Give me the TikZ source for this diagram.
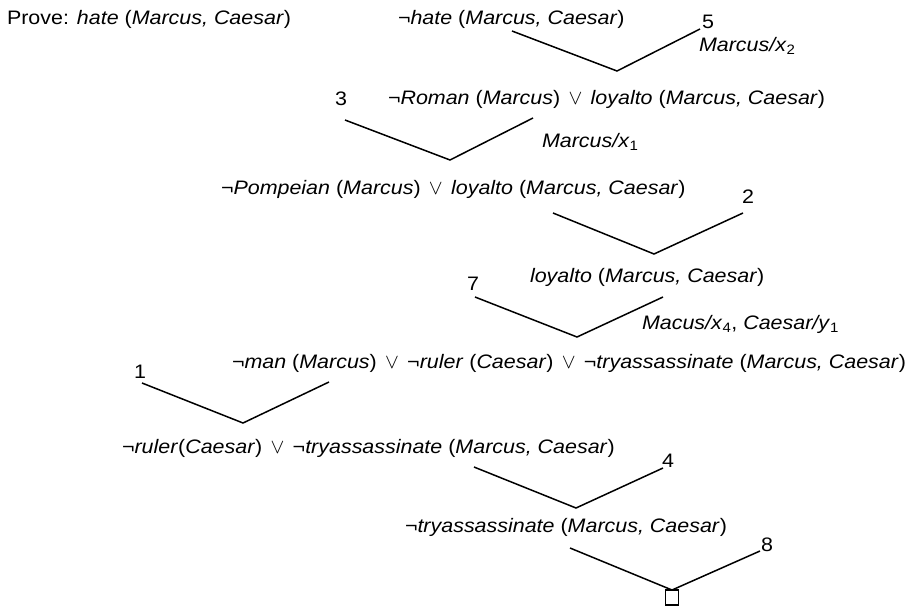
\documentclass[tikz,border=0pt]{standalone}
\usepackage{fontspec}
\setmainfont{Liberation Sans}[FakeStretch=1.1]
\newcommand{\ti}[1]{\textit{#1}}
\newcommand{\orr}{\hspace{0.12em}$\vee$\hspace{0.12em}}
\begin{document}
\begin{tikzpicture}[x=1pt,y=-1pt,
  every node/.style={inner sep=0pt, outer sep=0pt, font=\fontsize{19.5}{22}\selectfont},
  clause/.style={anchor=west},
  num/.style={anchor=center},
  arm/.style={line width=1.5pt, line join=miter}]
\useasboundingbox (0,0) rectangle (920,608);

% clauses
\node[clause] (prove) at (7,19) {Prove: \ti{hate} (\ti{Marcus, Caesar})};
\node[clause] (c1) at (398,19) {¬\ti{hate} (\ti{Marcus, Caesar})};
\node[clause] (c2) at (388,99) {¬\ti{Roman} (\ti{Marcus}) \orr{} \ti{loyalto} (\ti{Marcus, Caesar})};
\node[clause] (c3) at (221,189) {¬\ti{Pompeian} (\ti{Marcus}) \orr{} \ti{loyalto} (\ti{Marcus, Caesar})};
\node[clause] (c4) at (530,277) {\ti{loyalto} (\ti{Marcus, Caesar})};
\node[clause] (c5) at (232,363) {¬\ti{man} (\ti{Marcus}) \orr{} ¬\ti{ruler} (\ti{Caesar}) \orr{} ¬\ti{tryassassinate} (\ti{Marcus, Caesar})};
\node[clause] (c6) at (122,448) {¬\ti{ruler}(\ti{Caesar}) \orr{} ¬\ti{tryassassinate} (\ti{Marcus, Caesar})};
\node[clause] (c7) at (405,527) {¬\ti{tryassassinate} (\ti{Marcus, Caesar})};
\node[draw, line width=1.5pt, minimum width=13pt, minimum height=15pt, anchor=north] (empty) at (672,590) {};

% axiom numbers and substitutions
\node[num] (n5) at (708,22) {5};
\node[clause] (s5) at (699,46) {\ti{Marcus/x}\textsubscript{2}};
\node[num] (n3) at (341,99) {3};
\node[clause] (s3) at (542,142) {\ti{Marcus/x}\textsubscript{1}};
\node[num] (n2) at (748,197) {2};
\node[num] (n7) at (473,284) {7};
\node[clause] (s7) at (642,324) {\ti{Macus/x}\textsubscript{4}, \ti{Caesar/y}\textsubscript{1}};
\node[num] (n1) at (140,372) {1};
\node[num] (n4) at (668,461) {4};
\node[num] (n8) at (767,545) {8};

% resolution arms
\coordinate (a1) at (512,31);  \coordinate (v1) at (617,71);  \coordinate (b1) at (700,29);
\coordinate (a2) at (345,120); \coordinate (v2) at (450,160); \coordinate (b2) at (533,118);
\coordinate (a3) at (553,213); \coordinate (v3) at (654,254); \coordinate (b3) at (743,213);
\coordinate (a4) at (475,297); \coordinate (v4) at (577,337); \coordinate (b4) at (663,297);
\coordinate (a5) at (142,383); \coordinate (v5) at (243,423); \coordinate (b5) at (329,382);
\coordinate (a6) at (474,467); \coordinate (v6) at (576,508); \coordinate (b6) at (663,468);
\coordinate (a7) at (570,548); \coordinate (b7) at (760,551);

\draw[arm] (a1) -- (v1) -- (b1);
\draw[arm] (a2) -- (v2) -- (b2);
\draw[arm] (a3) -- (v3) -- (b3);
\draw[arm] (a4) -- (v4) -- (b4);
\draw[arm] (a5) -- (v5) -- (b5);
\draw[arm] (a6) -- (v6) -- (b6);
\draw[arm] (a7) -- (empty.north) -- (b7);
\end{tikzpicture}
\end{document}
